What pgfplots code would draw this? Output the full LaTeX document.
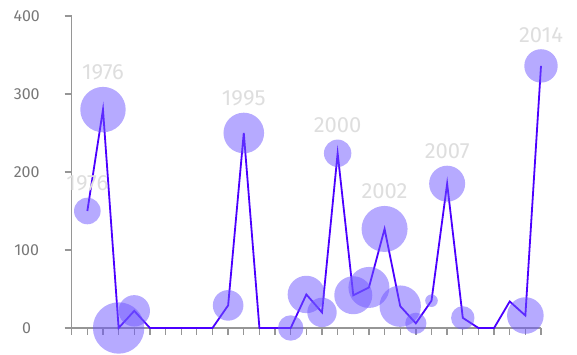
\documentclass[border=0pt]{standalone}
\usepackage{pgfplots}
\pgfplotsset{compat=1.18}
\usepackage{pgfplotstable}
\usepackage{fontspec}
\setmainfont{Fira Sans}
\definecolor{linec}{RGB}{75,0,255}
\definecolor{bubc}{RGB}{110,85,255}
\definecolor{axc}{RGB}{150,150,150}
\definecolor{tickc}{RGB}{120,120,120}
\definecolor{labc}{RGB}{222,222,222}

\pgfplotstableread{
x y
1 150
2 280
3 0
4 22
5 0
6 0
7 0
8 0
9 0
10 29
11 250
12 0
13 0
14 0
15 43
16 20
17 224
18 42
19 52
20 127
21 28
22 6
23 35
24 185
25 13
26 0
27 0
28 34
29 16
30 336
}\linedata

\pgfplotstableread{
x y r
1 150 13.3
2 280 22.7
3 0 25.7
4 22 15.7
10 29 15.3
11 250 20.3
14 0 12.7
15 43 18.7
16 20 14.7
17 224 13.7
18 42 19
19 52 20.5
20 127 23
21 28 20.7
22 6 10.6
23 35 6.3
24 185 18
25 13 11.7
29 16 18.3
30 336 16.7
}\bubdata

\pgfplotstableread{
x y r lab
1 150 13.3 1976
2 280 22.7 1976
11 250 20.3 1995
17 224 13.7 2000
20 127 23 2002
24 185 18 2007
30 336 16.7 2014
}\labdata

\begin{document}
\begin{tikzpicture}[x=1pt,y=1pt]
\useasboundingbox (0,0) rectangle (577,355);
\begin{axis}[
  at={(71.7pt,27pt)}, anchor=south west,
  scale only axis, width=469.3pt, height=312pt,
  xmin=0, xmax=30, ymin=0, ymax=400,
  clip=false,
  axis lines=left,
  axis line style={draw=axc, line width=1.3pt, -},
  xtick={0,1,...,30}, xticklabels={},
  ytick={0,100,200,300,400},
  tick align=outside,
  major tick length=7pt,
  tick style={draw=axc, line width=1.3pt},
  /pgf/number format/assume math mode=true,
  yticklabel style={font=\fontsize{16}{18}\selectfont, text=tickc, anchor=center, xshift=-38pt},
]
\addplot[
  scatter, only marks, mark=*,
  visualization depends on={\thisrow{r} \as \rad},
  scatter/use mapped color={draw=bubc, draw opacity=0, fill=bubc, fill opacity=0.5},
  mark options={draw opacity=0, fill=bubc, fill opacity=0.5},
  scatter/@pre marker code/.append style={/tikz/mark size=\rad pt, /tikz/draw opacity=0},
] table[x=x, y=y] {\bubdata};
\addplot[linec, line width=1.8pt, mark=none] table[x=x, y=y] {\linedata};
\addplot[
  draw=none, mark=none,
  point meta=explicit symbolic,
  visualization depends on={\thisrow{r} \as \rad},
  nodes near coords,
  every node near coord/.append style={anchor=base, inner sep=0pt, yshift=\rad+7, font=\fontsize{22}{24}\selectfont, text=labc},
] table[x=x, y=y, meta=lab] {\labdata};
\end{axis}
\end{tikzpicture}
\end{document}
